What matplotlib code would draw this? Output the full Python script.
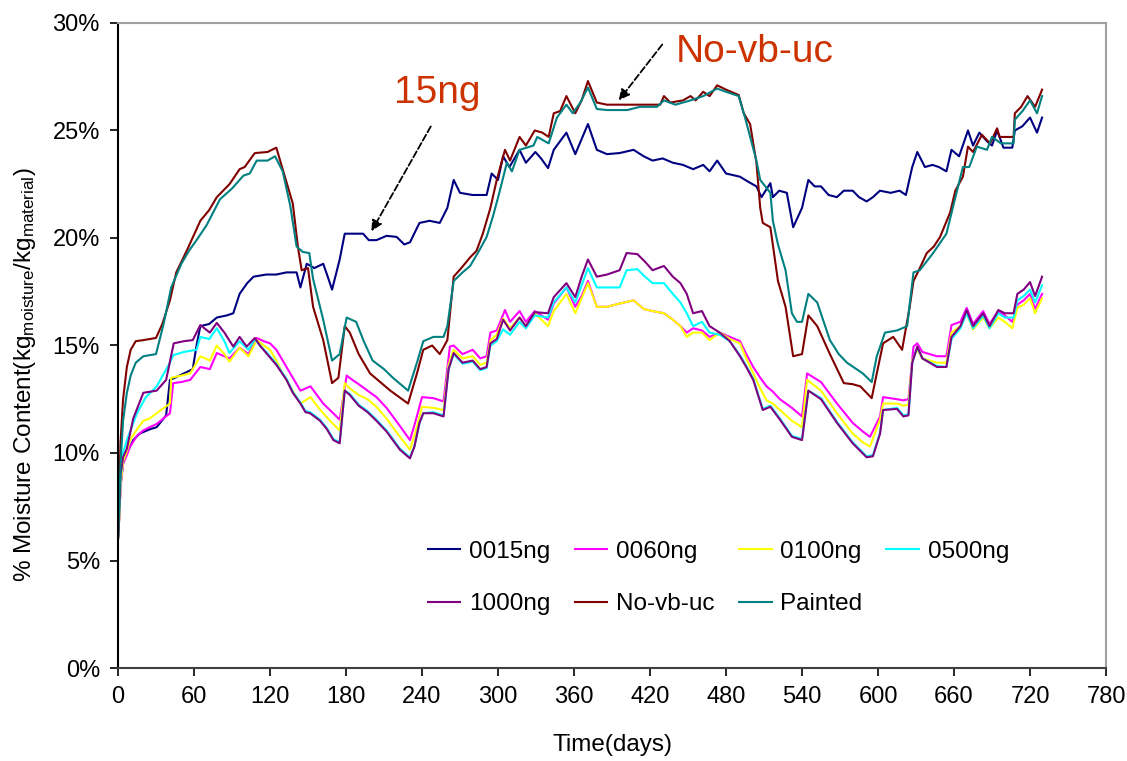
import numpy as np
import matplotlib.pyplot as plt
from matplotlib.ticker import FuncFormatter

plt.rcParams['font.family'] = ['Liberation Sans', 'DejaVu Sans']
plt.rcParams['mathtext.default'] = 'regular'

# (day, % moisture)
d_0015 = [0, 1, 2, 4, 7, 12, 17, 25, 30.5, 38, 41, 45, 52, 59, 62, 65, 72, 78, 86, 91, 96, 102, 107, 117, 125,
          133, 141, 144, 149, 155, 162, 165, 169, 175, 179, 186, 193.5, 198, 204, 212, 220, 226, 230.5, 238, 246,
          254, 260, 265, 270, 280, 291, 295, 300, 304, 309, 317, 322, 329.5, 334, 339.5, 344, 354, 361, 366, 371,
          378, 386, 396, 407, 415, 422, 430, 438, 446, 454, 462, 467, 473, 480, 491, 498, 504, 508, 515, 517, 522,
          528, 533, 540, 545, 550, 555, 561, 567.5, 573, 580, 585, 591, 596, 601.5, 610, 617, 622, 627, 631, 637,
          643, 648, 654, 658, 664, 671, 675, 680, 686, 690, 694, 699, 706, 708, 714, 720, 725.5, 729.5]
v_0015 = [6.0, 7.0, 8.5, 9.5, 10.0, 10.6, 10.9, 11.1, 11.2, 11.75, 13.4, 13.5, 13.7, 13.9, 15.0, 15.9, 16.0, 16.3,
          16.4, 16.5, 17.4, 17.9, 18.2, 18.3, 18.3, 18.4, 18.4, 17.7, 18.8, 18.6, 18.8, 18.3, 17.6, 19.0, 20.2,
          20.2, 20.2, 19.9, 19.9, 20.1, 20.05, 19.7, 19.8, 20.7, 20.8, 20.7, 21.4, 22.7, 22.1, 22.0, 22.0, 23.0,
          22.7, 23.8, 23.3, 24.1, 23.5, 24.0, 23.7, 23.25, 24.1, 24.9, 23.9, 24.6, 25.3, 24.1, 23.9, 23.95, 24.1,
          23.8, 23.6, 23.7, 23.5, 23.4, 23.2, 23.4, 23.1, 23.6, 23.0, 22.85, 22.6, 22.4, 21.9, 22.55, 21.9, 22.2,
          22.1, 20.5, 21.4, 22.7, 22.4, 22.4, 22.0, 21.9, 22.2, 22.2, 21.9, 21.7, 21.9, 22.2, 22.1, 22.2, 22.0,
          23.3, 24.0, 23.3, 23.4, 23.3, 23.1, 24.1, 23.8, 25.0, 24.3, 24.9, 24.5, 24.3, 25.0, 24.2, 24.2, 25.0,
          25.2, 25.6, 24.9, 25.6]

d_0060 = [0, 1, 2, 4, 7, 9.5, 15, 20, 25, 30.5, 41, 43.6, 50, 57, 65, 72.5, 78, 84, 88, 96, 103, 109.5, 115, 120,
          125, 130, 137, 144, 152, 157, 162, 169, 175, 180.5, 185, 190, 197, 204, 212, 222, 230.5, 235, 240, 249,
          257, 262, 265, 272, 280, 286, 291, 294, 299, 305.5, 309.5, 317, 322, 329, 339.5, 344, 354, 361, 366, 371,
          378, 386, 396, 407, 415, 422, 431, 438, 444, 449, 454, 461, 467, 475, 483, 491, 496, 501.5, 507, 512, 517,
          522.6, 532, 540, 544, 555, 567.6, 580, 588, 593.6, 601.6, 604, 615, 620, 624, 628, 631, 635, 646.5, 654,
          658, 665, 670, 675, 683, 688, 695, 700, 706, 710, 715, 720, 724, 729.5]
v_0060 = [6.0, 7.0, 8.4, 9.5, 9.9, 10.3, 10.8, 11.05, 11.2, 11.35, 11.85, 13.25, 13.3, 13.4, 14.0, 13.9, 14.65,
          14.5, 14.4, 14.9, 14.6, 15.35, 15.2, 15.1, 14.8, 14.3, 13.6, 12.9, 13.1, 12.7, 12.3, 11.9, 11.55, 13.6,
          13.4, 13.2, 12.9, 12.6, 12.1, 11.3, 10.6, 11.5, 12.6, 12.55, 12.4, 14.95, 15.0, 14.6, 14.8, 14.4, 14.5,
          15.6, 15.7, 16.65, 16.1, 16.6, 16.1, 16.6, 16.2, 16.95, 17.7, 16.8, 17.3, 18.0, 16.8, 16.8, 16.95, 17.1,
          16.7, 16.6, 16.5, 16.2, 15.9, 15.6, 15.8, 15.7, 15.4, 15.6, 15.4, 15.2, 14.6, 14.0, 13.5, 13.1, 12.85,
          12.5, 12.1, 11.7, 13.7, 13.3, 12.3, 11.4, 11.0, 10.75, 11.7, 12.6, 12.5, 12.45, 12.5, 14.95, 15.1, 14.7,
          14.5, 14.5, 15.95, 16.1, 16.75, 16.0, 16.6, 16.0, 16.6, 16.4, 16.1, 16.9, 17.1, 17.4, 16.7, 17.4]

d_0100 = [0, 1, 2, 4, 7, 9.5, 15, 20, 25, 30.5, 41, 42, 50, 57, 65, 72.5, 78, 84, 88, 96, 103, 109.5, 115, 120,
          125, 130, 137, 144, 152, 157, 162, 169, 175, 179, 183, 190, 197, 204, 212, 222, 230.5, 235, 240, 249, 257,
          261, 265, 272, 280, 286, 291, 294, 299, 304, 309.5, 317, 322, 329, 339.5, 344, 354, 361, 366, 371, 378,
          386, 396, 407, 415, 422, 431, 438, 444, 449, 454, 461, 467, 475, 483, 491, 496, 501.5, 507, 512, 517,
          522.6, 532, 540, 544, 555, 567.6, 580, 588, 593.6, 601.6, 604, 615, 620, 624, 627, 631, 635, 646.5, 654,
          658, 665, 670, 675, 683, 688, 695, 700, 706, 710, 715, 720, 724, 729.5]
v_0100 = [6.0, 7.0, 8.5, 9.6, 10.1, 10.6, 11.1, 11.5, 11.6, 11.85, 12.3, 13.5, 13.6, 13.7, 14.5, 14.3, 15.0, 14.6,
          14.25, 14.9, 14.5, 15.25, 15.0, 14.8, 14.3, 13.7, 13.0, 12.3, 12.6, 12.2, 11.85, 11.4, 11.05, 13.25,
          13.0, 12.7, 12.5, 12.15, 11.6, 10.8, 10.15, 11.0, 12.15, 12.1, 12.0, 14.1, 14.8, 14.4, 14.5, 14.1, 14.2,
          15.25, 15.5, 16.25, 15.8, 16.3, 15.9, 16.5, 15.9, 16.6, 17.4, 16.5, 17.2, 17.9, 16.8, 16.8, 16.95, 17.1,
          16.7, 16.6, 16.5, 16.2, 15.9, 15.4, 15.6, 15.6, 15.25, 15.6, 15.3, 15.1, 14.4, 13.7, 13.0, 12.45, 12.3,
          12.0, 11.5, 11.2, 13.4, 12.9, 11.85, 10.9, 10.5, 10.3, 11.55, 12.3, 12.3, 12.2, 12.25, 14.3, 14.8, 14.4,
          14.2, 14.2, 15.6, 15.9, 16.5, 15.75, 16.3, 15.8, 16.3, 16.1, 15.8, 16.75, 16.9, 17.2, 16.5, 17.2]

d_0500 = [0, 1, 2, 4, 7, 15, 22, 30.5, 41, 43.6, 52, 62, 65, 72, 78, 84, 88, 96, 103, 108, 112, 117, 125, 133,
          138, 144, 148, 151.6, 159.5, 165, 170, 175, 179, 183, 190, 197, 204, 212, 222.6, 230.5, 234, 238, 241,
          249, 257, 261, 265, 272, 280, 286, 291, 294, 299, 304, 309.5, 317, 322, 329, 339.5, 344, 354, 361, 366,
          371, 378, 386, 396, 401.5, 410, 416, 422, 431, 438, 444, 449, 454, 461, 467, 475, 483, 491, 496, 501.5,
          509, 515, 522.6, 532, 540, 545, 555, 567.6, 580, 591, 596, 601.6, 604, 615, 620, 624, 627, 631, 635,
          646.5, 654, 658, 665, 670, 675, 683, 688, 695, 700, 707, 710, 715, 720, 724, 729.5]
v_0500 = [6.0, 7.3, 8.8, 10.0, 10.6, 11.85, 12.6, 13.1, 14.2, 14.55, 14.7, 14.8, 15.4, 15.3, 15.8, 15.2, 14.65,
          15.2, 14.8, 15.3, 15.0, 14.7, 14.15, 13.45, 12.85, 12.35, 11.95, 11.9, 11.55, 11.15, 10.65, 10.5, 12.9,
          12.75, 12.25, 11.95, 11.55, 11.05, 10.2, 9.8, 10.3, 11.4, 11.85, 11.9, 11.75, 13.9, 14.6, 14.15, 14.25,
          13.85, 13.95, 15.0, 15.2, 15.75, 15.5, 16.1, 15.8, 16.4, 16.3, 17.0, 17.7, 17.0, 17.8, 18.6, 17.7, 17.7,
          17.7, 18.5, 18.55, 18.2, 17.9, 17.9, 17.4, 17.0, 16.5, 15.9, 16.1, 15.6, 15.5, 15.2, 14.55, 14.05,
          13.45, 12.05, 12.2, 11.6, 10.8, 10.65, 12.9, 12.55, 11.45, 10.5, 9.85, 9.9, 10.95, 12.0, 12.1, 11.75,
          11.8, 14.2, 14.9, 14.4, 14.05, 14.0, 15.3, 15.8, 16.5, 15.8, 16.4, 15.8, 16.5, 16.3, 16.3, 17.1, 17.3,
          17.6, 17.0, 17.8]

d_1000 = [0, 1, 2, 4, 7, 12, 20, 30.5, 38, 44, 52, 59, 65, 72.5, 78, 84, 91, 96, 101.6, 108, 112, 117, 125, 133,
          138, 144, 148, 151.6, 159.5, 165, 170, 175, 179, 183, 190, 197, 204, 212, 222.6, 230.5, 234, 238, 241,
          249, 257, 261, 265, 272, 280, 286, 291, 294, 299, 304, 309.5, 317, 322, 329, 339.5, 344, 354, 361, 366,
          371, 378, 386, 396, 401.5, 410, 416, 422, 431, 438, 444, 449, 454, 461, 467, 475, 483, 491, 496, 501.5,
          509, 515, 522.6, 532, 540, 545, 555, 567.6, 580, 591, 596, 601.6, 604, 615, 620, 624, 627, 631, 635,
          646.5, 654, 658, 665, 670, 675, 683, 688, 695, 700, 707, 710, 715, 720, 724, 729.5]
v_1000 = [6.0, 7.5, 9.0, 9.8, 10.2, 11.6, 12.8, 12.9, 13.4, 15.1, 15.2, 15.25, 15.95, 15.6, 16.05, 15.6, 14.95,
          15.4, 14.95, 15.35, 15.0, 14.65, 14.1, 13.4, 12.8, 12.3, 11.9, 11.85, 11.5, 11.1, 10.6, 10.45, 12.9,
          12.7, 12.2, 11.9, 11.5, 11.0, 10.15, 9.75, 10.3, 11.4, 11.85, 11.85, 11.7, 13.9, 14.65, 14.2, 14.3, 13.9,
          14.0, 15.1, 15.3, 16.2, 15.7, 16.3, 15.9, 16.55, 16.5, 17.25, 17.9, 17.25, 18.2, 19.0, 18.2, 18.3, 18.5,
          19.3, 19.25, 18.9, 18.5, 18.7, 18.2, 17.9, 17.4, 16.5, 16.6, 15.9, 15.6, 15.2, 14.5, 14.0, 13.4, 12.0,
          12.15, 11.55, 10.75, 10.6, 12.9, 12.5, 11.4, 10.45, 9.8, 9.85, 10.9, 12.0, 12.05, 11.7, 11.75, 14.2,
          14.95, 14.4, 14.0, 14.0, 15.4, 15.9, 16.65, 15.9, 16.5, 15.9, 16.65, 16.5, 16.5, 17.4, 17.6, 17.95, 17.3,
          18.2]

d_novb = [0, 1, 2, 4, 7, 10, 14, 20, 30, 35, 41, 46, 55, 65, 72, 78, 88, 96, 100, 108, 118, 125, 130, 138, 142,
          145, 150, 154, 162, 169, 174, 179, 183, 190, 199, 207, 215, 222, 229, 236, 241, 248, 254, 260, 265, 271,
          278, 283, 288, 294, 299, 305.5, 309.5, 317, 322, 329, 335, 340, 344, 349, 354, 361, 366, 371, 378, 386,
          396, 410, 428, 431, 436, 446, 452, 456, 462, 467, 473, 480, 490, 494, 499, 504, 507, 509, 515, 521, 527,
          533, 540, 545, 552, 562, 573, 580, 586, 595, 599, 604, 612, 619, 625, 628, 633, 638.5, 644, 649, 657,
          661, 667, 671, 675, 682, 688.5, 694, 696, 707, 708, 713, 718, 724, 729.5]
v_novb = [6.0, 8.0, 10.5, 12.5, 14.0, 14.8, 15.2, 15.25, 15.35, 16.0, 17.1, 18.4, 19.5, 20.8, 21.3, 21.9, 22.5,
          23.2, 23.3, 23.95, 24.0, 24.2, 23.2, 21.6, 19.6, 18.5, 18.6, 16.8, 15.25, 13.25, 13.5, 15.9, 15.6, 14.6,
          13.7, 13.3, 12.9, 12.6, 12.3, 13.7, 14.8, 15.0, 14.6, 15.25, 18.2, 18.6, 19.1, 19.4, 20.2, 21.4, 22.7,
          24.1, 23.6, 24.7, 24.3, 25.0, 24.9, 24.7, 25.8, 25.9, 26.6, 25.8, 26.4, 27.3, 26.3, 26.2, 26.2, 26.2,
          26.2, 26.6, 26.3, 26.4, 26.6, 26.4, 26.8, 26.6, 27.1, 26.9, 26.65, 25.8, 25.3, 23.5, 21.4, 20.7, 20.5,
          18.0, 16.8, 14.5, 14.6, 16.4, 15.9, 14.6, 13.25, 13.2, 13.1, 12.55, 13.7, 15.1, 15.4, 14.8, 16.8, 18.0,
          18.6, 19.3, 19.6, 20.05, 21.2, 22.2, 22.85, 24.25, 24.0, 24.8, 24.4, 25.1, 24.7, 24.7, 25.8, 26.1, 26.6,
          26.1, 26.9]

d_paint = [0, 1, 2, 4, 7, 10, 14, 20, 30, 36, 42, 50, 56, 62, 70, 80.5, 90, 99, 104, 109.5, 118, 124, 130, 136,
           141, 146, 151, 154, 162, 169, 175, 180.5, 188, 194, 201, 210, 217, 223, 229, 236, 241, 249, 257, 260,
           265, 272, 278, 285, 291, 296, 301, 307, 311, 317, 328, 331, 340, 346.5, 354, 359, 365, 371, 378, 386,
           402, 412, 425.5, 431, 440, 452, 462, 473, 480, 490, 495, 504, 507, 515, 517, 521, 527, 532, 536, 540,
           545, 552, 562, 569, 575.5, 588, 595, 599, 605.5, 615, 623, 628, 633, 643.5, 654, 659, 667, 672, 678,
           686, 690, 697, 707, 708, 714, 720, 725.5, 729.5]
v_paint = [6.0, 7.5, 9.5, 11.5, 12.8, 13.6, 14.2, 14.5, 14.6, 16.0, 17.7, 18.8, 19.4, 19.9, 20.6, 21.8, 22.3,
           22.9, 23.0, 23.6, 23.6, 23.8, 23.1, 21.5, 19.6, 19.35, 19.3, 18.1, 16.2, 14.3, 14.6, 16.3, 16.1, 15.2,
           14.3, 13.9, 13.5, 13.2, 12.9, 14.2, 15.2, 15.4, 15.4, 15.9, 18.0, 18.4, 18.7, 19.4, 20.05, 21.0, 22.1,
           23.5, 23.1, 24.1, 24.3, 24.7, 24.4, 25.6, 26.2, 25.8, 26.3, 27.0, 26.0, 25.95, 25.95, 26.1, 26.1, 26.4,
           26.2, 26.4, 26.6, 26.95, 26.8, 26.6, 25.6, 23.6, 22.7, 22.1, 20.8, 19.7, 18.5, 16.5, 16.1, 16.1, 17.4,
           17.0, 15.25, 14.6, 14.2, 13.7, 13.3, 14.5, 15.6, 15.7, 15.9, 18.4, 18.5, 19.3, 20.2, 21.4, 23.3, 23.3,
           24.25, 24.1, 24.7, 24.4, 24.4, 25.5, 25.9, 26.4, 25.8, 26.6]

series = [
    ("0015ng", d_0015, v_0015, "#000080"),
    ("0060ng", d_0060, v_0060, "#FF00FF"),
    ("0100ng", d_0100, v_0100, "#FFFF00"),
    ("0500ng", d_0500, v_0500, "#00FFFF"),
    ("1000ng", d_1000, v_1000, "#800080"),
    ("No-vb-uc", d_novb, v_novb, "#800000"),
    ("Painted", d_paint, v_paint, "#008080"),
]

fig = plt.figure(figsize=(11.27, 7.61), dpi=100)
ax = fig.add_axes([0.1047, 0.1222, 0.8767, 0.8476])

lines = []
for name, d, v, c in series:
    ln, = ax.plot(d, v, color=c, lw=1.5, label=name)
    lines.append(ln)

ax.set_xlim(0, 780)
ax.set_ylim(0, 30)
ax.set_xticks(np.arange(0, 781, 60))
ax.set_yticks(np.arange(0, 31, 5))
ax.yaxis.set_major_formatter(FuncFormatter(lambda v, p: "%d%%" % v))
ax.tick_params(direction='out', length=6, width=1.2, labelsize=17, pad=7)

ax.spines['left'].set_color('black')
ax.spines['left'].set_linewidth(1.5)
ax.spines['bottom'].set_color('#404040')
ax.spines['bottom'].set_linewidth(1.5)
for s in ['top', 'right']:
    ax.spines[s].set_color('#A0A0A0')
    ax.spines[s].set_linewidth(1.5)

ax.set_xlabel("Time(days)", fontsize=17.5, labelpad=19)
ax.set_ylabel("% Moisture Content(kg$_{moisture}$/kg$_{material}$)", fontsize=17.5)
ax.yaxis.set_label_coords(-0.081, 0.455)

# legend filled row by row like the original
order = [0, 4, 1, 5, 2, 6, 3]
ax.legend([lines[i] for i in order], [series[i][0] for i in order],
          ncol=4, frameon=False, fontsize=17.5, loc='upper left',
          bbox_to_anchor=(0.36, 0.318), bbox_transform=fig.transFigure,
          handlelength=1.35, handletextpad=0.35, columnspacing=1.0, labelspacing=1.25)

orange = "#CC3300"
ax.annotate("", xy=(199, 20.2), xytext=(248, 25.3),
            arrowprops=dict(arrowstyle='-|>', linestyle='--', color='black', lw=1.3, mutation_scale=16))
ax.text(218, 26.3, "15ng", color=orange, fontsize=28)
ax.annotate("", xy=(394, 26.3), xytext=(431, 29.1),
            arrowprops=dict(arrowstyle='-|>', linestyle='--', color='black', lw=1.3, mutation_scale=16))
ax.text(440, 28.2, "No-vb-uc", color=orange, fontsize=28)

fig.savefig("out.png", dpi=100)
